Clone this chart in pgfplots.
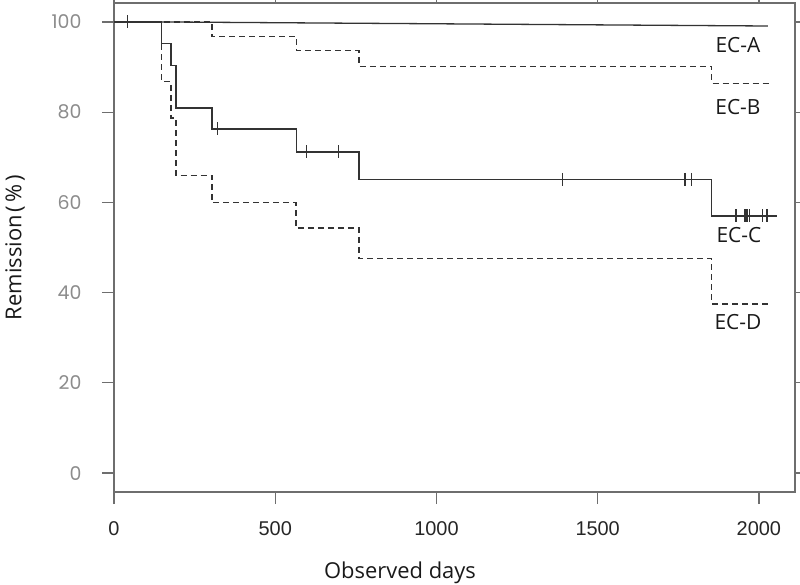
\documentclass[border=0pt]{standalone}
\usepackage{pgfplots}
\pgfplotsset{compat=1.18}
\usepackage{fontspec}
\setmainfont{Open Sans}
\newfontfamily\ytickfont{Poppins}
\newfontfamily\xtickfont{Liberation Sans}
\definecolor{linec}{HTML}{333333}
\definecolor{boxc}{HTML}{6E6E6E}
\definecolor{ytc}{HTML}{8C8C8C}
\begin{document}
\begin{tikzpicture}
\useasboundingbox (-114bp,-93bp) rectangle (686bp,492bp);
\begin{axis}[
  at={(0,0)}, anchor=south west,
  scale only axis, width=681bp, height=489bp,
  xmin=0, xmax=2112, ymin=-4.2, ymax=104.2,
  axis line style={boxc, line width=1.3bp},
  xtick={0,500,1000,1500,2000}, ytick={0,20,40,60,80,100},
  tick align=outside, major tick length=12bp,
  every tick/.style={boxc, line width=1.3bp},
  minor tick num=0,
  /pgf/number format/1000 sep={},
  /pgf/number format/assume math mode=true,
  xticklabel style={font=\xtickfont\fontsize{20}{20}\selectfont, text=black!85, yshift=-14bp},
  yticklabel style={font=\ytickfont\fontsize{19}{19}\selectfont, text=ytc, xshift=-17bp},
  xlabel={Observed days},
  ylabel={Remission\hspace{0.12em}(\hspace{0.15em}\%\hspace{0.15em})},
  label style={font=\fontsize{22}{22}\selectfont, text=black!90},
  xlabel style={at={(axis description cs:0.42,-0.1656)}, anchor=center},
  ylabel style={at={(axis description cs:-0.1454,0.5)}, anchor=center},
  clip=false,
]
% EC-B dashed
\addplot[const plot, linec, line width=1.3bp, dash pattern=on 6bp off 4bp] coordinates {
(0,100) (304,96.7) (567,93.6) (760,90.2) (1854,86.4) (2037,86.4)};
% EC-D dashed
\addplot[const plot, linec, line width=1.3bp, dash pattern=on 6bp off 4bp] coordinates {
(0,100) (148,86.8) (177,78.7) (192,66.0) (304,59.9) (564,54.3) (760,47.5) (1854,37.5) (2034,37.5)};
% EC-A solid
\addplot[linec, line width=1.3bp] coordinates {(0,100) (148,100) (2028,99.1)};
\addplot[only marks, mark=|, mark size=6.5bp, mark options={linec, line width=1.2bp}] coordinates {(43,100)};
% EC-C solid
\addplot[const plot, linec, line width=1.3bp] coordinates {
(0,100) (148,95.2) (177,90.4) (192,80.9) (304,76.3) (567,71.2) (760,65.1) (1854,57.0) (2055,57.0)};
\addplot[only marks, mark=|, mark size=6.5bp, mark options={linec, line width=1.2bp}] coordinates {
(322,76.3) (598,71.2) (695,71.2) (1392,65.1) (1771,65.1) (1792,65.1)
(1929,57.0) (1957,57.0) (1963,57.0) (1972,57.0) (2012,57.0) (2025,57.0)};
\node[font=\fontsize{21}{21}\selectfont, text=black!90] at (axis cs:1935,94.9) {EC-A};
\node[font=\fontsize{21}{21}\selectfont, text=black!90] at (axis cs:1935,81.2) {EC-B};
\node[font=\fontsize{21}{21}\selectfont, text=black!90] at (axis cs:1938,52.8) {EC-C};
\node[font=\fontsize{21}{21}\selectfont, text=black!90] at (axis cs:1935,33.5) {EC-D};
\end{axis}
\end{tikzpicture}
\end{document}
